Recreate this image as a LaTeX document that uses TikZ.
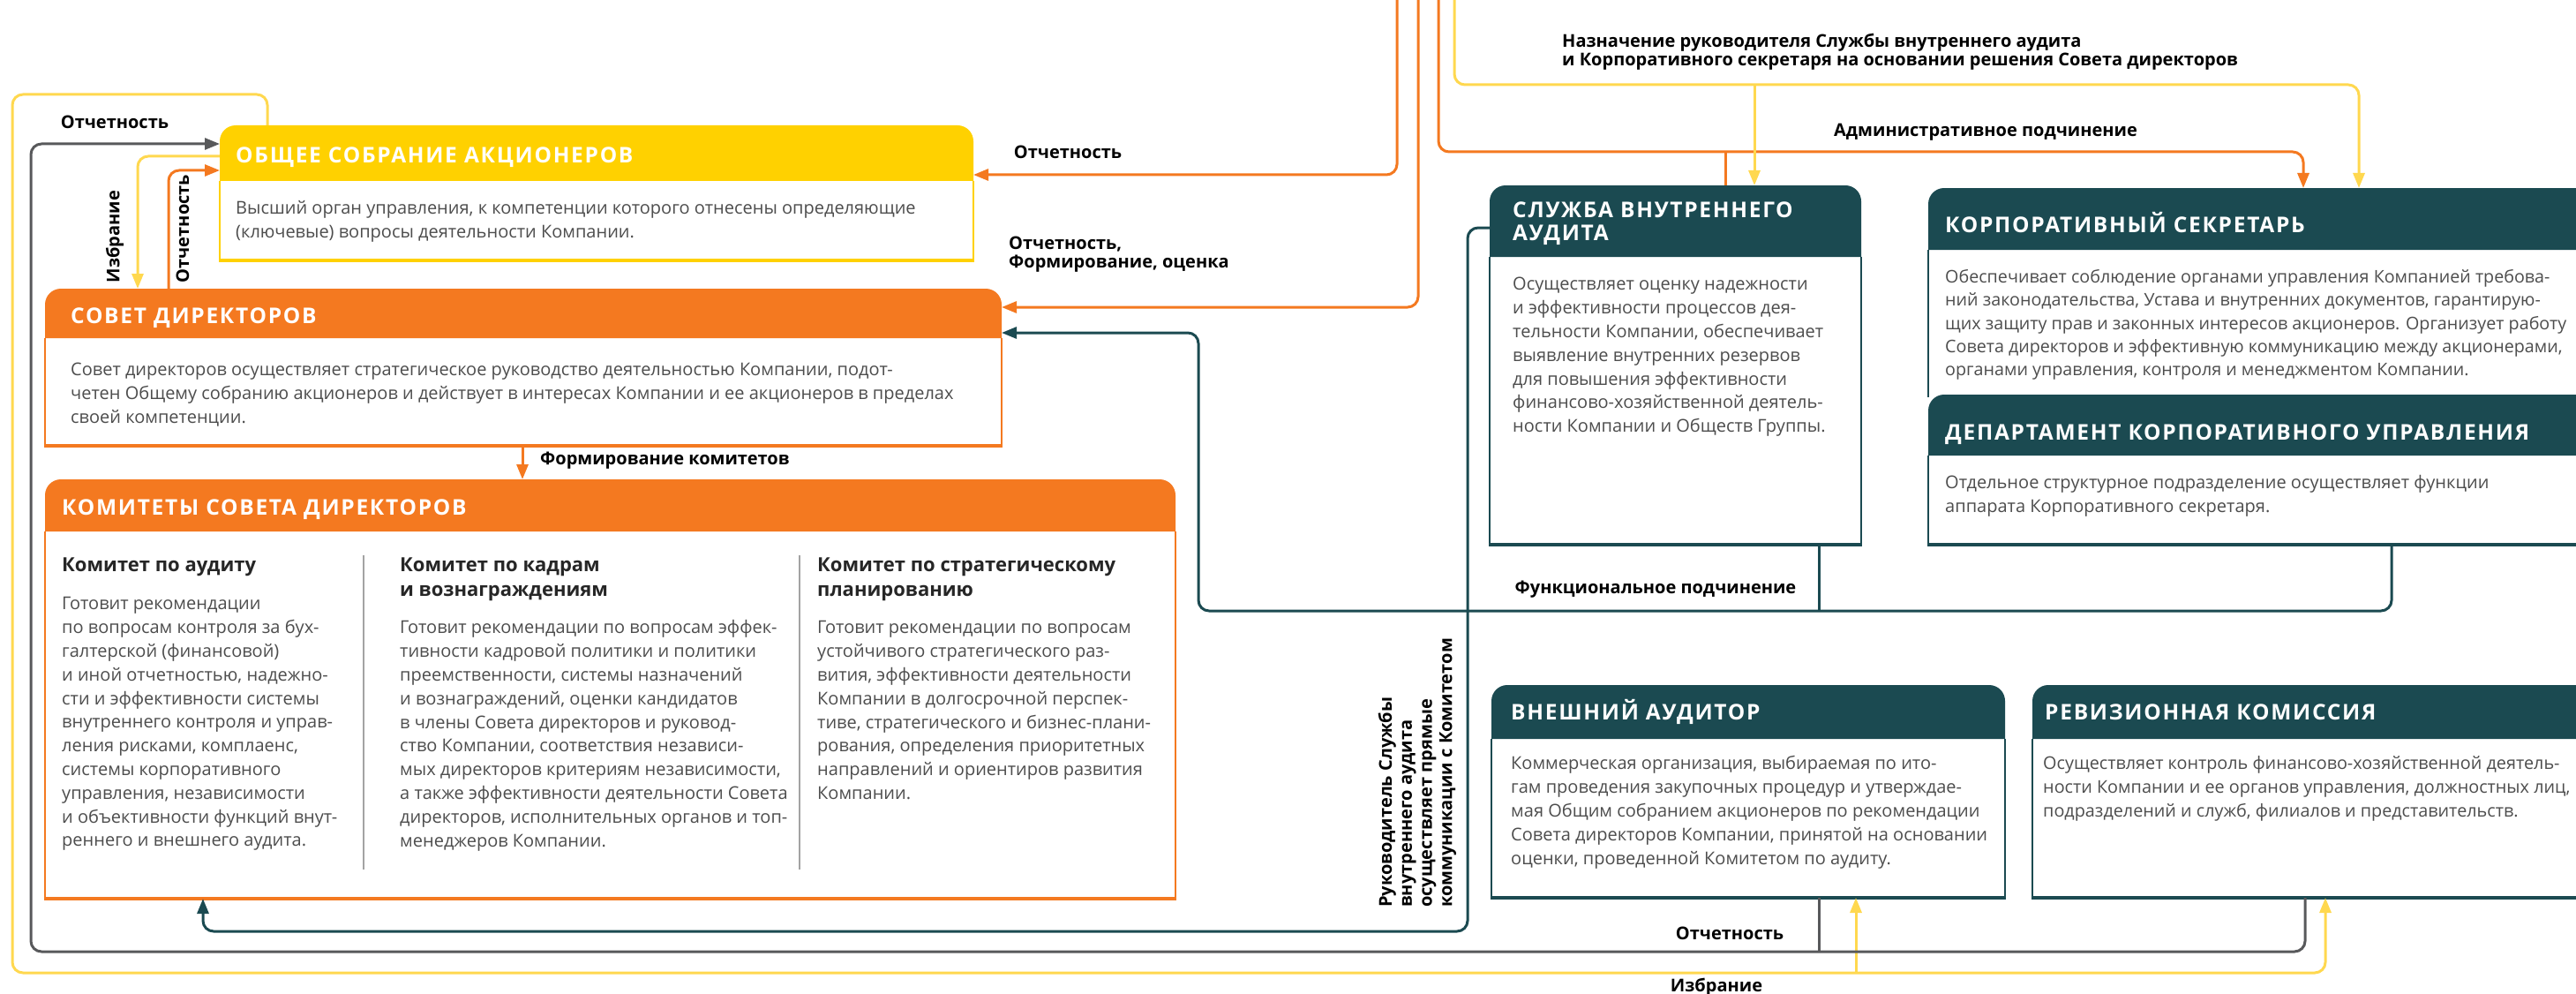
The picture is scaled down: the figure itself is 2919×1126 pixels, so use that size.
\documentclass[tikz,border=0pt]{standalone}
\usepackage{fontspec}
\setmainfont{Open Sans}
\IfFontExistsTF{Open Sans SemiBold}{%
  \newfontfamily\lblf{Open Sans SemiBold}%
  \newfontfamily\hdf{Open Sans SemiBold}[LetterSpace=7]%
}{%
  \newfontfamily\lblf{Open Sans}[UprightFont=* Bold]%
  \newfontfamily\hdf{Open Sans}[UprightFont=* Bold,LetterSpace=7]%
}
\usetikzlibrary{arrows.meta}
\definecolor{cY}{HTML}{FFD100}
\definecolor{cYl}{HTML}{FFD84F}
\definecolor{cO}{HTML}{F47920}
\definecolor{cT}{HTML}{1B4A51}
\definecolor{cG}{HTML}{58595B}
\definecolor{cTx}{HTML}{4D4D4D}
\definecolor{cSep}{HTML}{A3A3A3}
\newcommand\firstln{\rule{0pt}{0.85em}}
% name, x1, y1, x2, y2, yheader, colour
\newcommand\orgbox[7]{%
  \node[inner sep=0, outer sep=0, minimum width={(#4-#2)*1pt}, minimum height={(#5-#3)*1pt}, anchor=north west] (#1) at (#2,#3) {};
  \fill[#7] (#2,#6) [rounded corners=18pt] -- (#2,#3) -- (#4,#3) [sharp corners] -- (#4,#6) -- cycle;
  \draw[#7, line width=2pt] (#2,#6) -- (#2,#5) (#4,#6) -- (#4,#5);
  \draw[#7, line width=4pt] (#2-1,#5) -- (#4+1,#5);
}
\begin{document}
\begin{tikzpicture}[x=1pt,y=-1pt,
  conn/.style={line width=3pt, rounded corners=12pt},
  arr/.style={-{Triangle[length=17pt,width=13pt]}},
  bodytxt/.style={anchor=north west, inner sep=0, align=left, text=cTx, font=\fontsize{20}{26.8}\selectfont},
  hdtxt/.style={anchor=base west, inner sep=0, text=white, font=\hdf\fontsize{24.5}{26.5}\selectfont},
  lbl/.style={inner sep=0, text=black, align=left, font=\lblf\fontsize{20}{20.5}\selectfont},
  ctitle/.style={anchor=north west, inner sep=0, align=left, text=black!85, font=\lblf\fontsize{22}{28.5}\selectfont},
]
\useasboundingbox (0,0) rectangle (2919,1126);
\fill[white] (0,0) rectangle (2919,1126);
\clip (0,0) rectangle (2919,1126);

% ---------- boxes ----------
\orgbox{osa}{249}{142}{1103}{295}{205}{cY}
\orgbox{sd}{51}{327}{1135}{505}{383}{cO}
\orgbox{kom}{51}{543}{1332}{1018}{602}{cO}
\orgbox{sva}{1688}{210}{2109}{617}{291}{cT}
\orgbox{va}{1690}{776}{2272}{1017}{837}{cT}
\orgbox{rk}{2303}{776}{2990}{1017}{837}{cT}
\node[inner sep=0, outer sep=0, minimum width=805pt, minimum height=234pt, anchor=north west] (ks) at (2185,213) {};
\fill[cT] (2185,283) [rounded corners=18pt] -- (2185,213) -- (2990,213) [sharp corners] -- (2990,283) -- cycle;
\draw[cT, line width=2pt] (2185,283) -- (2185,450);
\orgbox{dku}{2185}{447}{2990}{617}{516}{cT}

\draw[cSep, line width=1.5pt] (412,629) -- (412,985) (906,629) -- (906,985);

% ---------- connectors ----------
\coordinate (topA) at (1583,-20);
\coordinate (topB) at (1607,-20);
\coordinate (topC) at (1630,-20);
\coordinate (topD) at (1648,-20);

% yellow outer: election of auditors
\draw[conn, cYl, arr] ([xshift=54pt]osa.north west) |- (14,107) -- (14,1102) -| ([xshift=332pt]rk.south west);
\draw[conn, cYl, arr] (2103,1102) -- ([xshift=413pt]va.south west);
% grey: reporting to shareholders
\draw[conn, cG, arr] ([xshift=309pt]rk.south west) |- (35,1078) -- (35,163) -- ([yshift=-21pt]osa.north west);
\draw[conn, cG] ([xshift=371pt]va.south west) -- (2061,1078);
% osa <-> sd
\draw[conn, cYl, arr] ([yshift=-35pt]osa.north west) -| ([xshift=105pt]sd.north west);
\draw[conn, cO, arr] ([xshift=140pt]sd.north west) |- ([yshift=-51pt]osa.north west);
% from top
\draw[conn, cO, arr] (topA) |- ([yshift=-56pt]osa.north east);
\draw[conn, cO, arr] (topB) |- ([yshift=-21pt]sd.north east);
\draw[conn, cO, arr] (topC) -- (1630,172) -| ([xshift=425pt]ks.north west);
\draw[conn, cO] (1955,172) -- (1955,0 |- sva.north);
\draw[conn, cYl, arr] (topD) -- (1648,96) -| ([xshift=488pt]ks.north west);
\draw[conn, cYl, arr] (1988,96) -- (1988,0 |- sva.north);
% committees
\draw[conn, cO, arr] ([xshift=541pt]sd.south west) -- (592,0 |- kom.north);
% teal: internal audit to committee
\draw[conn, cT, arr] ([yshift=-48pt]sva.north west) -| (1663,1055) -| ([xshift=179pt]kom.south west);
% teal: functional subordination
\draw[conn, cT, arr] ([xshift=525pt]dku.south west) |- (1358,692) |- ([yshift=-50pt]sd.north east);
\draw[conn, cT] ([xshift=373pt]sva.south west) -- (2061,692);

% ---------- headers ----------
\node[hdtxt] (hosa) at (267,185) {ОБЩЕЕ СОБРАНИЕ АКЦИОНЕРОВ};
\node[hdtxt] (hsd) at (80,366.5) {СОВЕТ ДИРЕКТОРОВ};
\node[hdtxt] (hkom) at (70,583.5) {КОМИТЕТЫ СОВЕТА ДИРЕКТОРОВ};
\node[hdtxt, anchor=north west, align=left] (hsva) at (1714,225.2) {\firstln СЛУЖБА ВНУТРЕННЕГО\\АУДИТА};
\node[hdtxt] (hks) at (2204,263.5) {КОРПОРАТИВНЫЙ СЕКРЕТАРЬ};
\node[hdtxt] (hdku) at (2204,498.5) {ДЕПАРТАМЕНТ КОРПОРАТИВНОГО УПРАВЛЕНИЯ};
\node[hdtxt] (hva) at (1712,815.5) {ВНЕШНИЙ АУДИТОР};
\node[hdtxt] (hrk) at (2317,815.5) {РЕВИЗИОННАЯ КОМИССИЯ};

% ---------- body texts ----------
\node[bodytxt] (bosa) at (267,225.6) {\firstln Высший орган управления, к компетенции которого отнесены определяющие\\(ключевые) вопросы деятельности Компании.};
\node[bodytxt] (bsd) at (80,408.6) {\firstln Совет директоров осуществляет стратегическое руководство деятельностью Компании, подот-\\четен Общему собранию акционеров и действует в интересах Компании и ее акционеров в пределах\\своей компетенции.};
\node[ctitle] (t1) at (70,628.5) {\rule{0pt}{0.85em}Комитет по аудиту};
\node[ctitle] (t2) at (453,628.5) {\rule{0pt}{0.85em}Комитет по кадрам\\и вознаграждениям};
\node[ctitle] (t3) at (926,628.5) {\rule{0pt}{0.85em}Комитет по стратегическому\\планированию};
\node[bodytxt] (b1) at (70,673.6) {\firstln Готовит рекомендации\\по вопросам контроля за бух-\\галтерской (финансовой)\\и иной отчетностью, надежно-\\сти и эффективности системы\\внутреннего контроля и управ-\\ления рисками, комплаенс,\\системы корпоративного\\управления, независимости\\и объективности функций внут-\\реннего и внешнего аудита.};
\node[bodytxt] (b2) at (453,700.6) {\firstln Готовит рекомендации по вопросам эффек-\\тивности кадровой политики и политики\\преемственности, системы назначений\\и вознаграждений, оценки кандидатов\\в члены Совета директоров и руковод-\\ство Компании, соответствия независи-\\мых директоров критериям независимости,\\а также эффективности деятельности Совета\\директоров, исполнительных органов и топ-\\менеджеров Компании.};
\node[bodytxt] (b3) at (926,700.6) {\firstln Готовит рекомендации по вопросам\\устойчивого стратегического раз-\\вития, эффективности деятельности\\Компании в долгосрочной перспек-\\тиве, стратегического и бизнес-плани-\\рования, определения приоритетных\\направлений и ориентиров развития\\Компании.};
\node[bodytxt] (bsva) at (1714,311.6) {\firstln Осуществляет оценку надежности\\и эффективности процессов дея-\\тельности Компании, обеспечивает\\выявление внутренних резервов\\для повышения эффективности\\финансово-хозяйственной деятель-\\ности Компании и Обществ Группы.};
\node[bodytxt, font=\fontsize{19.7}{26.3}\selectfont] (bks) at (2204,303.6) {\firstln Обеспечивает соблюдение органами управления Компанией требова-\\ний законодательства, Устава и внутренних документов, гарантирую-\\щих защиту прав и законных интересов акционеров. Организует работу\\Совета директоров и эффективную коммуникацию между акционерами,\\органами управления, контроля и менеджментом Компании.};
\node[bodytxt] (bdku) at (2204,536.6) {\firstln Отдельное структурное подразделение осуществляет функции\\аппарата Корпоративного секретаря.};
\node[bodytxt] (bva) at (1712,854.6) {\firstln Коммерческая организация, выбираемая по ито-\\гам проведения закупочных процедур и утверждае-\\мая Общим собранием акционеров по рекомендации\\Совета директоров Компании, принятой на основании\\оценки, проведенной Комитетом по аудиту.};
\node[bodytxt, font=\fontsize{19.8}{26.8}\selectfont] (brk) at (2315,854.6) {\firstln Осуществляет контроль финансово-хозяйственной деятель-\\ности Компании и ее органов управления, должностных лиц,\\подразделений и служб, филиалов и представительств.};

% ---------- connector labels ----------
\node[lbl] (l1) at (130,138) {Отчетность};
\node[lbl, rotate=90] (l2) at (130,268) {Избрание};
\node[lbl, rotate=90] (l3) at (207,259) {Отчетность};
\node[lbl] (l4) at (1210,172) {Отчетность};
\node[lbl, anchor=north west] (l5) at (1143,265.6) {\firstln Отчетность,\\Формирование, оценка};
\node[lbl, anchor=west] (l6) at (612,522) {Формирование комитетов};
\node[lbl, anchor=north west] (l7) at (1770,36.6) {\firstln Назначение руководителя Службы внутреннего аудита\\и Корпоративного секретаря на основании решения Совета директоров};
\node[lbl] (l8) at (2250,150) {Административное подчинение};
\node[lbl] (l9) at (1876,668) {Функциональное подчинение};
\node[lbl, anchor=north west, rotate=90, font=\lblf\fontsize{20}{22.7}\selectfont] (l10) at (1560,1028) {\firstln Руководитель Службы\\внутреннего аудита\\осуществляет прямые\\коммуникации с Комитетом};
\node[lbl] (l11) at (1960,1057) {Отчетность};
\node[lbl] (l12) at (1945,1118) {Избрание};
\end{tikzpicture}
\end{document}
